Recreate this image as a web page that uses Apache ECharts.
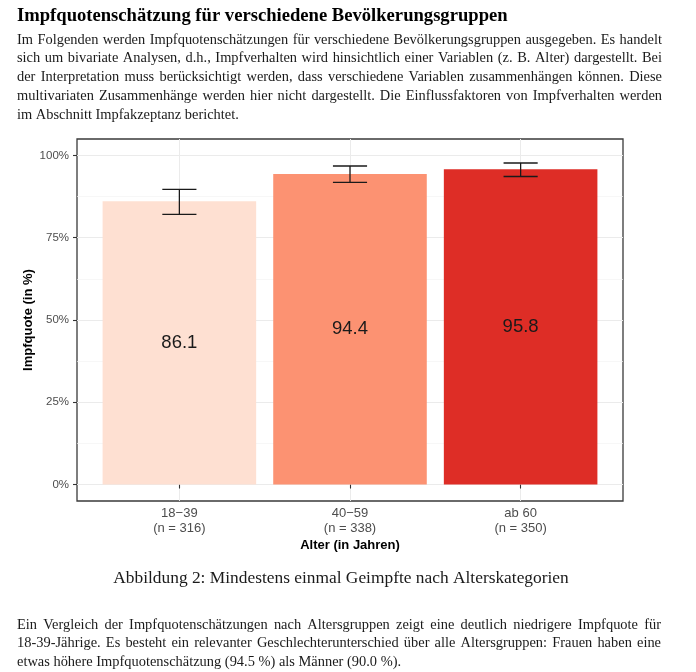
<!DOCTYPE html>
<html><head><meta charset="utf-8">
<script src="https://cdn.jsdelivr.net/npm/echarts@6/dist/echarts.min.js"></script>
<style>html,body{margin:0;padding:0;background:#fff}#c{width:696px;height:672px}</style>
</head><body><div id="c"></div><script>
// ---- data ----
const ageGroups = ['18−39', '40−59', 'ab 60'];
const sampleSizes = [316, 338, 350];
const rates = [86.1, 94.4, 95.8];
const ciLow = [82.1, 91.8, 93.6];
const ciHigh = [89.7, 96.8, 97.7];
const barColors = ['#FEE0D2', '#FC9272', '#DE2D26'];
const yTicks = [0, 25, 50, 75, 100];
const yMinorTicks = [12.5, 37.5, 62.5, 87.5];
const xPositions = [1, 2, 3];

// ---- texts ----
const headingText = 'Impfquotenschätzung für verschiedene Bevölkerungsgruppen';
const introLines = [
  'Im Folgenden werden Impfquotenschätzungen für verschiedene Bevölkerungsgruppen ausgegeben. Es handelt',
  'sich um bivariate Analysen, d.h., Impfverhalten wird hinsichtlich einer Variablen (z. B. Alter) dargestellt. Bei',
  'der Interpretation muss berücksichtigt werden, dass verschiedene Variablen zusammenhängen können. Diese',
  'multivariaten Zusammenhänge werden hier nicht dargestellt. Die Einflussfaktoren von Impfverhalten werden',
  'im Abschnitt Impfakzeptanz berichtet.'
];
const captionText = 'Abbildung 2: Mindestens einmal Geimpfte nach Alterskategorien';
const outroLines = [
  'Ein Vergleich der Impfquotenschätzungen nach Altersgruppen zeigt eine deutlich niedrigere Impfquote für',
  '18-39-Jährige. Es besteht ein relevanter Geschlechterunterschied über alle Altersgruppen: Frauen haben eine',
  'etwas höhere Impfquotenschätzung (94.5 %) als Männer (90.0 %).'
];
const yAxisTitle = 'Impfquote (in %)';
const xAxisTitle = 'Alter (in Jahren)';

// ---- layout helpers ----
const serif = '"Liberation Serif", "Times New Roman", serif';
const sans = '"Liberation Sans", Arial, sans-serif';
const mctx = document.createElement('canvas').getContext('2d');
function measure(t, font) { mctx.font = font; return mctx.measureText(t).width; }
function fitSize(text, target, weight) {
  const f = (weight ? weight + ' ' : '') + '20px ' + serif;
  return 20 * target / measure(text, f);
}
const bodySize = fitSize(introLines[4], 222);
const bodyFont = bodySize.toFixed(2) + 'px ' + serif;
const headSize = fitSize(headingText, 491, 'bold');
const headFont = 'bold ' + headSize.toFixed(2) + 'px ' + serif;
const capSize = fitSize(captionText, 456);
const capFont = capSize.toFixed(2) + 'px ' + serif;

function textEl(text, x, y, font, fill, align) {
  return { type: 'text', x: x, y: y, silent: true,
    style: { text: text, font: font, fill: fill, align: align || 'left', verticalAlign: 'middle',
             textAlign: align || 'left', textVerticalAlign: 'middle' } };
}
function lineEls(text, x, y, width, font, justify) {
  if (!justify) return [textEl(text, x, y, font, '#1a1a1a')];
  const words = text.split(' ');
  const total = words.reduce((s, w) => s + measure(w, font), 0);
  const gap = (width - total) / (words.length - 1);
  let cx = x;
  return words.map(w => { const el = textEl(w, cx, y, font, '#1a1a1a'); cx += measure(w, font) + gap; return el; });
}

const graphics = [];
graphics.push(textEl(headingText, 17, 16, headFont, '#000'));
introLines.forEach((l, i) => graphics.push(...lineEls(l, 17, 40 + i * 18.7, 645, bodyFont, i < introLines.length - 1)));
graphics.push(textEl(captionText, 341, 578, capFont, '#1a1a1a', 'center'));
outroLines.forEach((l, i) => graphics.push(...lineEls(l, 17, 625 + i * 18.5, 644, bodyFont, i < outroLines.length - 1)));

// ---- chart ----
const chart = echarts.init(document.getElementById('c'), null, { renderer: 'canvas' });
const seriesData = xPositions.map((x, i) => [x, rates[i], ciLow[i], ciHigh[i]]);

chart.setOption({
  animation: false,
  backgroundColor: '#fff',
  graphic: graphics,
  grid: { left: 77, top: 139, width: 546, height: 362, show: true, borderColor: '#3a3a3a', borderWidth: 1.3, backgroundColor: '#fff' },
  xAxis: [{
    type: 'value', min: 0.4, max: 3.6, position: 'bottom',
    axisLine: { show: false },
    axisTick: { show: true, customValues: xPositions, length: 4, lineStyle: { color: '#333', width: 1.1 } },
    axisLabel: { customValues: xPositions, color: '#4d4d4d', fontSize: 13, lineHeight: 15, margin: 5, fontFamily: sans,
      formatter: v => { const i = Math.round(v) - 1; return ageGroups[i] + '\n(n = ' + sampleSizes[i] + ')'; } },
    splitLine: { show: true, lineStyle: { color: '#EBEBEB', width: 1 } },
    name: xAxisTitle, nameLocation: 'middle', nameGap: 38, nameMoveOverlap: false,
    nameTextStyle: { fontWeight: 'bold', fontSize: 13, color: '#000', fontFamily: sans }
  }],
  yAxis: [{
    type: 'value', min: -5, max: 105,
    axisLine: { show: false },
    axisTick: { show: true, customValues: yTicks, length: 4, lineStyle: { color: '#333', width: 1.1 } },
    axisLabel: { customValues: yTicks, formatter: v => v + '%', color: '#4d4d4d', fontSize: 11.5, margin: 8, fontFamily: sans },
    splitLine: { show: true, lineStyle: { color: '#EBEBEB', width: 1 } },
    name: yAxisTitle, nameLocation: 'middle', nameGap: 42, nameRotate: 90, nameMoveOverlap: false,
    nameTextStyle: { fontWeight: 'bold', fontSize: 13, color: '#000', fontFamily: sans }
  }, {
    type: 'value', min: -5, max: 105, position: 'left',
    axisLine: { show: false },
    axisTick: { show: true, customValues: yMinorTicks, length: 0, lineStyle: { color: 'rgba(0,0,0,0)' } },
    axisLabel: { show: false },
    splitLine: { show: true, lineStyle: { color: '#F4F4F4', width: 0.7 } }
  }],
  series: [{
    type: 'custom',
    xAxisIndex: 0, yAxisIndex: 0,
    data: seriesData,
    renderItem: function (params, api) {
      const x = api.value(0), v = api.value(1), lo = api.value(2), hi = api.value(3);
      const i = params.dataIndex;
      const tl = api.coord([x - 0.45, v]);
      const br = api.coord([x + 0.45, 0]);
      const top = api.coord([x, hi]);
      const bot = api.coord([x, lo]);
      const capL = api.coord([x - 0.1, hi])[0];
      const capR = api.coord([x + 0.1, hi])[0];
      const mid = api.coord([x, v / 2]);
      const ls = { stroke: '#1a1a1a', lineWidth: 1.3 };
      return { type: 'group', children: [
        { type: 'rect', shape: { x: tl[0], y: tl[1], width: br[0] - tl[0], height: br[1] - tl[1] }, style: { fill: barColors[i] } },
        { type: 'line', shape: { x1: top[0], y1: top[1], x2: bot[0], y2: bot[1] }, style: ls },
        { type: 'line', shape: { x1: capL, y1: top[1], x2: capR, y2: top[1] }, style: ls },
        { type: 'line', shape: { x1: capL, y1: bot[1], x2: capR, y2: bot[1] }, style: ls },
        { type: 'text', x: mid[0], y: mid[1], style: { text: v.toFixed(1), fill: '#1a1a1a', font: '18.5px ' + sans,
            align: 'center', verticalAlign: 'middle', textAlign: 'center', textVerticalAlign: 'middle' } }
      ] };
    }
  }]
});
</script></body></html>
